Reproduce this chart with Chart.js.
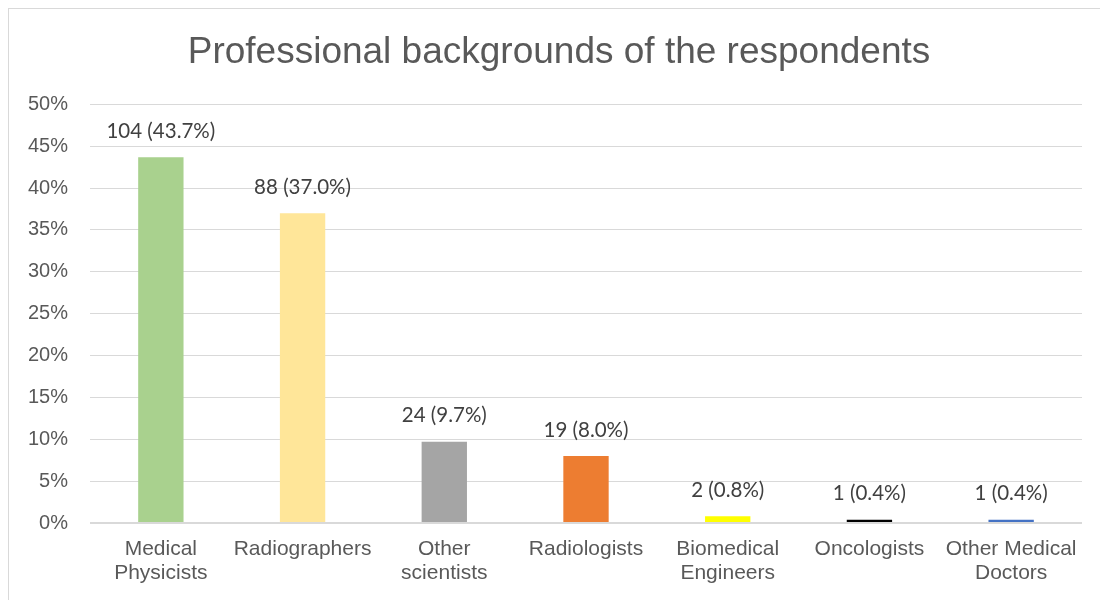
<!DOCTYPE html>
<html>
<head>
<meta charset="utf-8">
<script src="https://cdn.jsdelivr.net/npm/chart.js@4/dist/chart.umd.min.js"></script>
<style>
  body { margin: 0; background: #fff; overflow: hidden; }
  #frame { position: absolute; left: 8px; top: 8px; width: 1200px; height: 700px; border: 1px solid #d9d9d9; }
  #chart { position: absolute; left: 0; top: 0; }
</style>
</head>
<body>
<div id="frame"></div>
<canvas id="chart" width="1100" height="600"></canvas>
<script>
// data
var categories = [["Medical", "Physicists"], "Radiographers", ["Other", "scientists"], "Radiologists",
                  ["Biomedical", "Engineers"], "Oncologists", ["Other Medical", "Doctors"]];
var percents = [43.7, 37.0, 9.7, 8.0, 0.8, 0.4, 0.4];
var counts = [104, 88, 24, 19, 2, 1, 1];
var barColors = ["#A9D18E", "#FFE699", "#A5A5A5", "#ED7D31", "#FFFF00", "#000000", "#4472C4"];

// labels like "104 (43.7%)" above each bar
var valueLabels = {
    id: "valueLabels",
    afterDatasetsDraw: function (chart) {
        var ctx = chart.ctx;
        var meta = chart.getDatasetMeta(0);
        ctx.save();
        ctx.font = "20.5px Lato";
        ctx.fillStyle = "#404040";
        ctx.textAlign = "center";
        ctx.textBaseline = "middle";
        meta.data.forEach(function (bar, i) {
            var txt = counts[i] + " (" + percents[i].toFixed(1) + "%)";
            ctx.fillText(txt, bar.x, bar.y - 26);
        });
        ctx.restore();
    }
};

var ctx = document.getElementById("chart");
var myChart = new Chart(ctx, {
    type: "bar",
    data: {
        labels: categories,
        datasets: [{
            data: percents,
            backgroundColor: barColors,
            barPercentage: 0.32,
            categoryPercentage: 1.0
        }]
    },
    options: {
        responsive: false,
        animation: false,
        layout: { padding: { top: 0, right: 0, left: 18, bottom: 0 } },
        plugins: {
            legend: { display: false },
            tooltip: { enabled: false },
            title: {
                display: true,
                text: "Professional backgrounds of the respondents",
                color: "#595959",
                font: { family: "Liberation Sans", size: 37, weight: "normal", lineHeight: 1.2 },
                padding: { top: 31, bottom: 29 }
            }
        },
        scales: {
            y: {
                min: 0,
                max: 50,
                ticks: {
                    stepSize: 5,
                    color: "#595959",
                    font: { family: "Liberation Sans", size: 20 },
                    padding: 22,
                    callback: function (v) { return v + "%"; }
                },
                grid: {
                    color: "#d9d9d9",
                    lineWidth: function (c) { return c.tick && c.tick.value === 0 ? 2 : 1; },
                    drawTicks: false
                },
                border: { display: false },
                afterFit: function (scale) { scale.width = 72; }
            },
            // empty right gutter so the title centres like the original
            gutter: {
                position: "right",
                display: true,
                ticks: { display: false },
                grid: { display: false, drawTicks: false },
                border: { display: false },
                afterFit: function (scale) { scale.width = 18; }
            },
            x: {
                ticks: {
                    color: "#595959",
                    font: { family: "Liberation Sans", size: 21, lineHeight: 1.15 },
                    padding: 14,
                    maxRotation: 0,
                    autoSkip: false
                },
                grid: { display: false, drawTicks: false },
                border: { display: false },
                afterFit: function (scale) { scale.height = 77; }
            }
        }
    },
    plugins: [valueLabels]
});
</script>
</body>
</html>
